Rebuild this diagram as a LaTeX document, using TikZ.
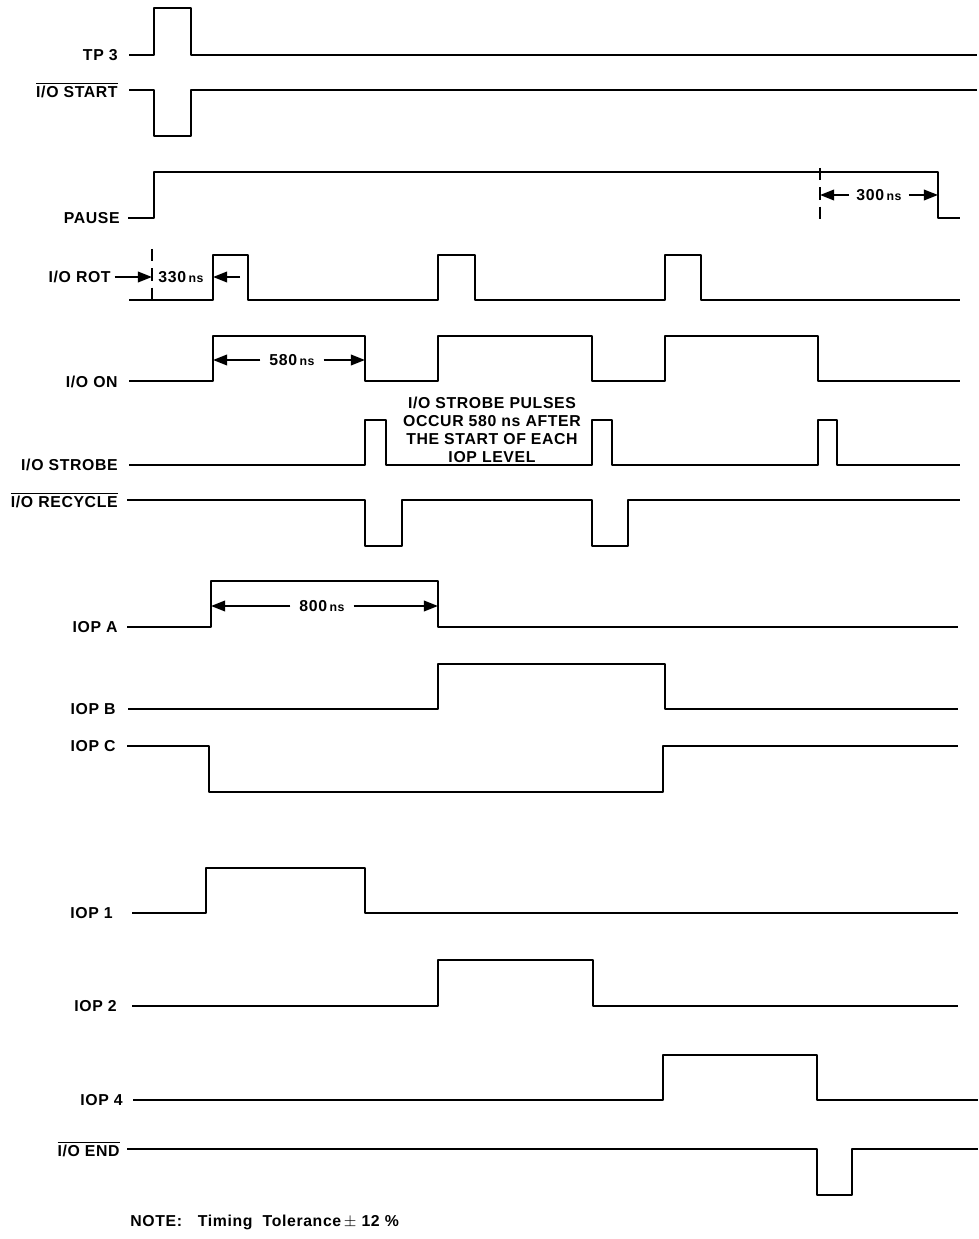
\documentclass[tikz,border=0pt]{standalone}
\usepackage{fontspec}
\setmainfont{Liberation Sans}
\usetikzlibrary{arrows.meta}
\newfontfamily\letterfont[LetterSpace=4]{Liberation Sans}
\newcommand{\barsig}[1]{$\overline{\mbox{#1}}$}
\newcommand{\nsunit}{{\fontsize{7}{8}\selectfont ns}}

\begin{document}
\begin{tikzpicture}[
  x=0.02cm,
  y=-0.02cm,
  every node/.style={font=\letterfont\bfseries\fontsize{9}{10.2}\selectfont, inner sep=0pt},
  label/.style={anchor=east},
  signal/.style={black, line width=1.3pt, line join=round},
  guide/.style={black, line width=0.9pt, dash pattern=on 7pt off 4pt},
  dim/.style={black, line width=1.1pt, -{Triangle[length=8pt,width=6pt]}},
  note/.style={align=center}
]
  \useasboundingbox (0,0) rectangle (979,1239);

  % ---- start of the cycle ------------------------------------------------
  \node[label] (tp3) at (118,55) {TP 3};
  \draw[signal] (129,55) -- (154,55) -- (154,8) -- (191,8) -- (191,55) -- (977,55);

  \node[label] (iostart) at (118,90) {\barsig{I/O START}};
  \draw[signal] (129,90) -- (154,90) -- (154,136) -- (191,136) -- (191,90) -- (977,90);

  \node[label] (pause) at (120,218) {PAUSE};
  \draw[signal] (128,218) -- (154,218) -- (154,172) -- (938,172) -- (938,218) -- (960,218);

  % ---- 300 ns before the end of PAUSE ------------------------------------
  \coordinate (p300) at (820,195);
  \coordinate (pend) at (938,195);
  \draw[guide] (820,168) -- (820,224);
  \node (t300) at (879,195) {300\,\nsunit};
  \draw[dim] ([xshift=-4pt]t300.west) -- (p300);
  \draw[dim] ([xshift=4pt]t300.east) -- (pend);

  % ---- I/O ROT -------------------------------------------------------------
  \node[label] (iorot) at (111,277) {I/O ROT};
  \draw[signal] (129,300) -- (213,300) -- (213,255) -- (248,255) -- (248,300)
    -- (438,300) -- (438,255) -- (475,255) -- (475,300)
    -- (665,300) -- (665,255) -- (701,255) -- (701,300) -- (960,300);
  \coordinate (r330) at (152,277);
  \coordinate (rrise) at (213,277);
  \draw[guide] (152,249) -- (152,306);
  \draw[dim] ([xshift=2pt]iorot.east) -- (r330);
  \node (t330) at (181,277) {330\,\nsunit};
  \draw[dim] (240,277) -- (rrise);

  % ---- I/O ON --------------------------------------------------------------
  \node[label] (ioon) at (118,382) {I/O ON};
  \draw[signal] (129,381) -- (213,381) -- (213,336) -- (365,336) -- (365,381)
    -- (438,381) -- (438,336) -- (592,336) -- (592,381)
    -- (665,381) -- (665,336) -- (818,336) -- (818,381) -- (960,381);
  \coordinate (on1) at (213,360);
  \coordinate (on2) at (365,360);
  \node (t580) at (292,360) {580\,\nsunit};
  \draw[dim] ([xshift=-5pt]t580.west) -- (on1);
  \draw[dim] ([xshift=5pt]t580.east) -- (on2);

  % ---- strobe and recycle --------------------------------------------------
  \node[note] (strobenote) at (492,430)
    {I/O STROBE PULSES\\OCCUR 580 ns AFTER\\THE START OF EACH\\IOP LEVEL};

  \node[label] (iostrobe) at (118,465) {I/O STROBE};
  \draw[signal] (129,465) -- (365,465) -- (365,420) -- (386,420) -- (386,465)
    -- (592,465) -- (592,420) -- (612,420) -- (612,465)
    -- (818,465) -- (818,420) -- (837,420) -- (837,465) -- (960,465);

  \node[label] (iorecycle) at (118,500) {\barsig{I/O RECYCLE}};
  \draw[signal] (127,500) -- (365,500) -- (365,546) -- (402,546) -- (402,500)
    -- (592,500) -- (592,546) -- (628,546) -- (628,500) -- (960,500);

  % ---- IOP levels ------------------------------------------------------------
  \node[label] (iopa) at (118,627) {IOP A};
  \draw[signal] (127,627) -- (211,627) -- (211,581) -- (438,581) -- (438,627) -- (958,627);
  \coordinate (a1) at (211,606);
  \coordinate (a2) at (438,606);
  \node (t800) at (322,606) {800\,\nsunit};
  \draw[dim] ([xshift=-5pt]t800.west) -- (a1);
  \draw[dim] ([xshift=5pt]t800.east) -- (a2);

  \node[label] (iopb) at (116,709) {IOP B};
  \draw[signal] (128,709) -- (438,709) -- (438,664) -- (665,664) -- (665,709) -- (958,709);

  \node[label] (iopc) at (116,746) {IOP C};
  \draw[signal] (127,746) -- (209,746) -- (209,792) -- (663,792) -- (663,746) -- (958,746);

  \node[label] (iop1) at (113,913) {IOP 1};
  \draw[signal] (132,913) -- (206,913) -- (206,868) -- (365,868) -- (365,913) -- (958,913);

  \node[label] (iop2) at (117,1006) {IOP 2};
  \draw[signal] (132,1006) -- (438,1006) -- (438,960) -- (593,960) -- (593,1006) -- (958,1006);

  \node[label] (iop4) at (123,1100) {IOP 4};
  \draw[signal] (133,1100) -- (663,1100) -- (663,1055) -- (817,1055) -- (817,1100) -- (978,1100);

  % ---- end of the cycle ------------------------------------------------------
  \node[label] (ioend) at (120,1149) {\barsig{I/O END}};
  \draw[signal] (127,1149) -- (817,1149) -- (817,1195) -- (852,1195) -- (852,1149) -- (978,1149);

  \node[anchor=west] (tolnote) at (130,1222) {NOTE:\quad Timing\ \ Tolerance\,$\pm$\ 12\ \%};
\end{tikzpicture}
\end{document}
